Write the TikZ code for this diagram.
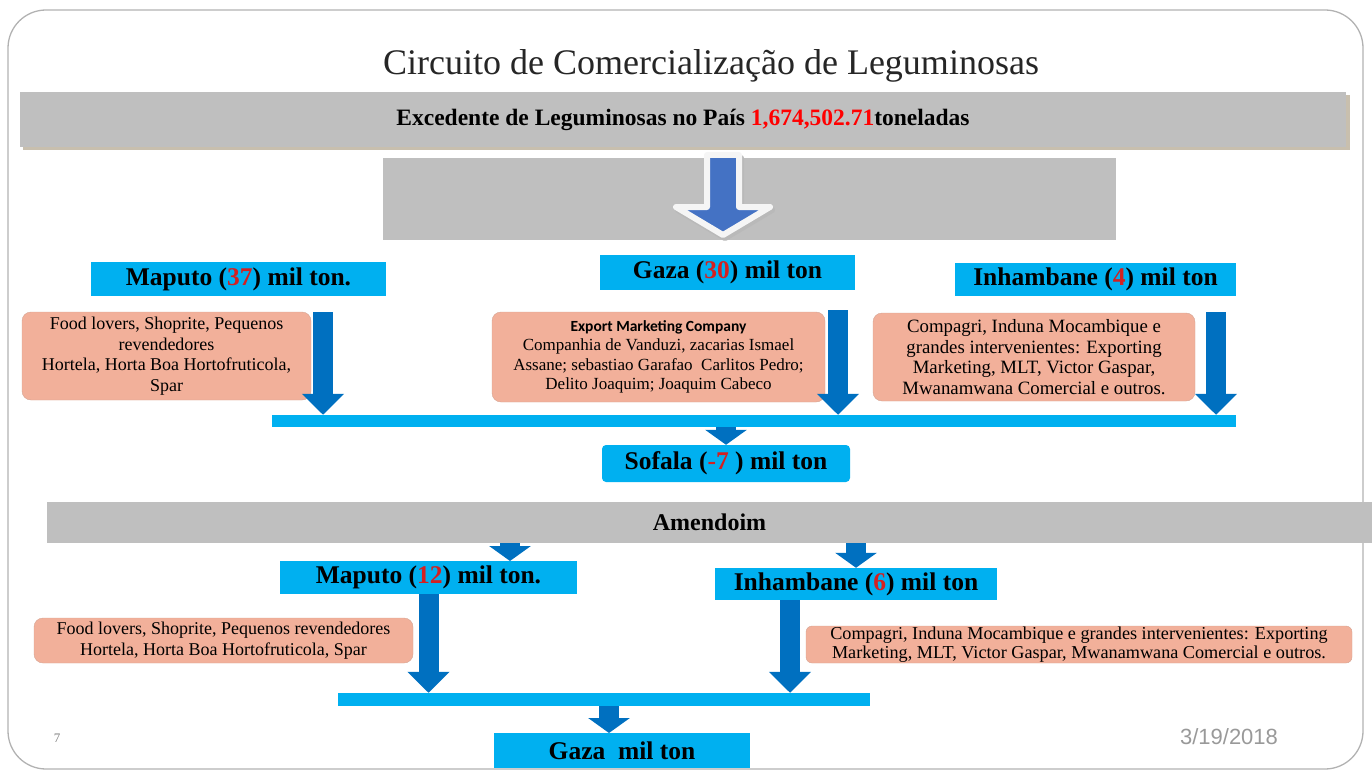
\documentclass[tikz,border=0pt]{standalone}
\usepackage{fontspec}
\setmainfont{Liberation Serif}
\newfontfamily\datefont{Liberation Sans}
\newfontfamily\labelsans{Carlito}
\usetikzlibrary{arrows.meta,positioning}

\definecolor{regioncyan}{HTML}{00B0F0}
\definecolor{flowblue}{HTML}{0070C0}
\definecolor{titleblue}{HTML}{4472C4}
\definecolor{barsilver}{HTML}{BFBFBF}
\definecolor{buyersalmon}{HTML}{F2B09A}
\definecolor{shadowtan}{HTML}{C8BFAE}
\definecolor{numred}{HTML}{D42020}
\newcommand{\redval}[1]{\textcolor{numred}{#1}}

\begin{document}
\begin{tikzpicture}[x=1pt,y=-1pt,
    region/.style={fill=regioncyan, inner sep=0pt, font=\fontsize{25.5}{28}\selectfont\bfseries},
    buyers/.style={fill=buyersalmon, draw=buyersalmon!75!gray, rounded corners=9pt, align=center, inner sep=0pt, font=\fontsize{18}{20.5}\selectfont},
    silverbar/.style={fill=barsilver, inner sep=0pt},
    flowbar/.style={fill=regioncyan, inner sep=0pt, minimum height=12pt},
    flow/.style={draw=flowblue, line width=20pt, -{Triangle[width=41pt,length=21pt]}},
    shortflow/.style={flow, -{Triangle[width=41pt,length=15pt]}}]
    \useasboundingbox (0,0) rectangle (1372,770);

    % slide frame
    \draw[gray!60, line width=1.3pt, rounded corners=38pt] (8,10) rectangle (1363,769);

    \node[font=\fontsize{36}{40}\selectfont, text=black!85] (title) at (711,66) {Circuito de Comercialização de Leguminosas};

    % total surplus
    \fill[shadowtan] (23,95) rectangle (1350,150);
    \node[silverbar, minimum width=1326pt, minimum height=55pt, font=\fontsize{23.5}{26}\selectfont\bfseries] (surplus) at (683,119.5)
        {Excedente de Leguminosas no País \textcolor{red}{1,674,502.71}toneladas};
    \node[silverbar, minimum width=733pt, minimum height=82pt] (panel) at (749.5,199) {};

    % hollow arrow
    \draw[gray!55, line width=6pt, line join=round, fill=gray!55, xshift=2pt, yshift=-3pt]
        (707,155) -- (739,155) -- (739,207) -- (770,207) -- (723,235) -- (676,207) -- (707,207) -- cycle;
    \draw[gray!8, line width=6pt, line join=round, fill=titleblue]
        (707,155) -- (739,155) -- (739,207) -- (770,207) -- (723,235) -- (676,207) -- (707,207) -- cycle;

    % provinces with surplus
    \node[region, minimum width=295pt, minimum height=34pt] (maputo) at (238.5,279) {Maputo (\redval{37}) mil ton.};
    \node[region, minimum width=255pt, minimum height=35pt] (gaza) at (727.5,272.5) {Gaza (\redval{30}) mil ton};
    \node[region, minimum width=281pt, minimum height=33pt] (inhambane) at (1095.5,279.5) {Inhambane (\redval{4}) mil ton};

    \node[buyers, minimum width=289pt, minimum height=88pt] (maputobuyers) at (166.5,356)
        {Food lovers, Shoprite, Pequenos\\revendedores\\Hortela, Horta Boa Hortofruticola,\\Spar};
    \node[buyers, minimum width=333pt, minimum height=90pt, font=\fontsize{17}{19.5}\selectfont] (gazabuyers) at (658.5,357)
        {{\labelsans\bfseries\fontsize{15.5}{17}\selectfont Export Marketing Company}\\Companhia de Vanduzi, zacarias Ismael\\Assane; sebastiao Garafao\ \ Carlitos Pedro;\\Delito Joaquim; Joaquim Cabeco};
    \node[buyers, minimum width=322pt, minimum height=88pt, font=\fontsize{18.8}{20.7}\selectfont] (inhambanebuyers) at (1034,357)
        {Compagri, Induna Mocambique e\\grandes intervenientes: Exporting\\Marketing, MLT, Victor Gaspar,\\Mwanamwana Comercial e outros.};

    \node[flowbar, minimum width=964pt] (collect) at (754,421) {};
    \coordinate (fromMaputo) at (323,312);
    \coordinate (fromGaza) at (838,310);
    \coordinate (fromInhambane) at (1216,312);
    \draw[flow] (fromMaputo) -- (fromMaputo |- collect.north);
    \draw[flow] (fromGaza) -- (fromGaza |- collect.north);
    \draw[flow] (fromInhambane) -- (fromInhambane |- collect.north);

    \node[region, rounded corners=4pt, minimum width=248pt, minimum height=37pt] (sofala) at (726,463.5) {Sofala (\redval{-7} ) mil ton};
    \draw[shortflow] (collect.south -| sofala.north) -- (sofala.north);

    % groundnut
    \node[silverbar, minimum width=1325pt, minimum height=41pt, font=\fontsize{24}{26}\selectfont\bfseries] (amendoim) at (709.5,522.5) {Amendoim};

    \node[region, minimum width=297pt, minimum height=33pt] (maputoB) at (428.5,577.5) {Maputo (\redval{12}) mil ton.};
    \node[region, minimum width=282pt, minimum height=32pt] (inhambaneB) at (856,584) {Inhambane (\redval{6}) mil ton};
    \coordinate (toMaputoB) at (510,561);
    \draw[shortflow] (amendoim.south -| toMaputoB) -- (toMaputoB);
    \draw[shortflow] (amendoim.south -| inhambaneB.north) -- (inhambaneB.north);

    \node[buyers, minimum width=379pt, minimum height=45pt] (maputoBbuyers) at (223.5,640.5)
        {Food lovers, Shoprite, Pequenos revendedores\\Hortela, Horta Boa Hortofruticola, Spar};
    \node[buyers, minimum width=546pt, minimum height=37pt, rounded corners=6pt, font=\fontsize{18.2}{19}\selectfont] (inhambaneBbuyers) at (1079,644.5)
        {Compagri, Induna Mocambique e grandes intervenientes: Exporting\\Marketing, MLT, Victor Gaspar, Mwanamwana Comercial e outros.};

    \node[flowbar, minimum width=532pt, minimum height=13pt] (merge) at (604,699.5) {};
    \coordinate (fromInhambaneB) at (790,600);
    \draw[flow] (maputoB.south) -- (maputoB.south |- merge.north);
    \draw[flow] (fromInhambaneB) -- (fromInhambaneB |- merge.north);

    \node[region, minimum width=256pt, minimum height=35pt] (gazaB) at (622,750.5) {Gaza\ \ mil ton};
    \coordinate (toGazaB) at (609,733);
    \draw[shortflow] (merge.south -| toGazaB) -- (toGazaB);

    % footer
    \node[text=gray, font=\fontsize{13}{15}\selectfont] (pagenum) at (57,738) {7};
    \node[text=gray!80, font=\datefont\fontsize{22}{26}\selectfont] (date) at (1229,737) {3/19/2018};
\end{tikzpicture}
\end{document}
